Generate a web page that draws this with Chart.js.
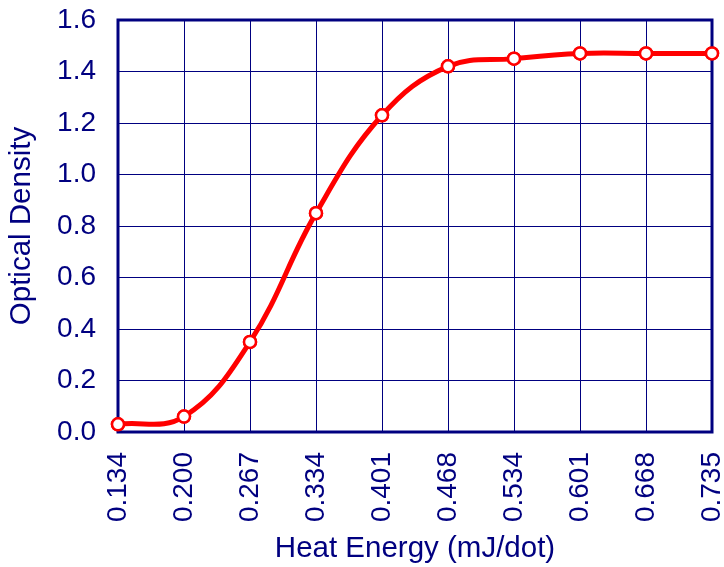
<!DOCTYPE html>
<html>
<head>
<meta charset="utf-8">
<script src="https://cdn.jsdelivr.net/npm/chart.js@4"></script>
<style>
  html, body { margin: 0; padding: 0; background: #fff; }
  #wrap { width: 724px; height: 567px; }
</style>
</head>
<body>
<div id="wrap"><canvas id="chart" width="724" height="567"></canvas></div>
<script>
const heatEnergy = ['0.134', '0.200', '0.267', '0.334', '0.401', '0.468', '0.534', '0.601', '0.668', '0.735'];
const opticalDensity = [0.03, 0.06, 0.35, 0.85, 1.23, 1.42, 1.45, 1.47, 1.47, 1.47];
const yTicks = [0, 0.2, 0.4, 0.6, 0.8, 1.0, 1.2, 1.4, 1.6];

const navy = '#000080';
const family = '"Liberation Sans", Arial, sans-serif';
const tickFont = { family: family, size: 28 };
const titleFont = { family: family, size: 29.5 };

// thick frame around the plot area
const framePlugin = {
    id: 'frame',
    afterDraw(chart) {
        const { ctx, chartArea: a } = chart;
        ctx.save();
        ctx.strokeStyle = navy;
        ctx.lineWidth = 3;
        ctx.strokeRect(a.left, a.top, a.right - a.left, a.bottom - a.top);
        ctx.restore();
    }
};

// redraw the points above the frame so edge markers are not hidden
const pointsOnTop = {
    id: 'pointsOnTop',
    afterDraw(chart) {
        chart.getDatasetMeta(0).data.forEach(p => p.draw(chart.ctx));
    }
};

new Chart(document.getElementById('chart'), {
    type: 'line',
    data: {
        labels: heatEnergy,
        datasets: [{
            data: opticalDensity,
            borderColor: '#ff0000',
            borderWidth: 5,
            tension: 0.4,
            pointRadius: 6,
            pointBorderWidth: 2.5,
            pointBackgroundColor: '#ffffff',
            pointBorderColor: '#ff0000',
            clip: false,
        }]
    },
    options: {
        responsive: false,
        animation: false,
        layout: { padding: { top: 20, right: 12 } },
        plugins: { legend: { display: false }, tooltip: { enabled: false } },
        scales: {
            x: {
                type: 'category',
                offset: false,
                grid: { color: navy, lineWidth: 1, drawTicks: false },
                border: { display: false },
                ticks: {
                    color: navy, font: tickFont, padding: 20,
                    minRotation: 90, maxRotation: 90, autoSkip: false
                },
                title: { display: true, text: 'Heat Energy (mJ/dot)', color: navy, font: titleFont, padding: { top: 0, bottom: 0 } },
                afterFit: s => { s.height = 135; s.paddingLeft = 0; s.paddingRight = 0; }
            },
            y: {
                min: 0, max: 1.6,
                afterBuildTicks: s => { s.ticks = yTicks.map(v => ({ value: v })); },
                grid: { color: navy, lineWidth: 1, drawTicks: false },
                border: { display: false },
                ticks: { color: navy, font: tickFont, padding: 22, callback: v => v.toFixed(1) },
                title: { display: true, text: 'Optical Density', color: navy, font: titleFont, padding: { top: 4, bottom: 0 } },
                afterFit: s => { s.width = 118; s.paddingTop = 0; s.paddingBottom = 0; }
            }
        }
    },
    plugins: [framePlugin, pointsOnTop]
});
</script>
</body>
</html>
